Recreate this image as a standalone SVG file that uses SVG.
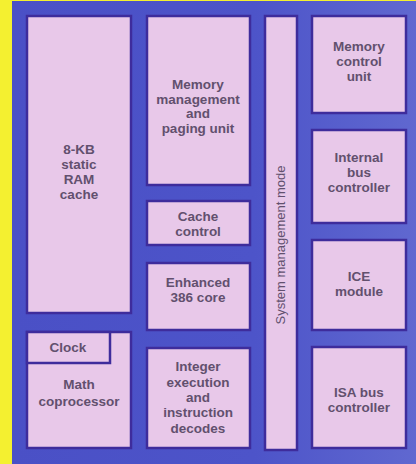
<svg xmlns="http://www.w3.org/2000/svg" width="416" height="464" viewBox="0 0 416 464">
<defs>
<linearGradient id="bg" x1="0" y1="0" x2="1" y2="0">
<stop offset="0" stop-color="#4a50c6"/><stop offset="0.6" stop-color="#4d54c9"/><stop offset="1" stop-color="#6068d0"/>
</linearGradient>
</defs>
<style>
.blk{fill:#e8c8e9;stroke:#3e2c9c;stroke-width:2.5}
.t{font-family:"Liberation Sans",Arial,sans-serif;font-size:13.5px;font-weight:bold;fill:#62506e;text-anchor:middle}
.tv{font-family:"Liberation Sans",Arial,sans-serif;font-size:13px;fill:#62506e;text-anchor:middle}
</style>
<rect x="0" y="0" width="416" height="464" fill="#f4f030"/>
<rect x="12" y="1" width="404" height="463" fill="url(#bg)"/>
<g id="ram-cache"><rect class="blk" x="27" y="16" width="104" height="297"/>
<text class="t" x="79" y="154">8-KB</text><text class="t" x="79" y="169">static</text><text class="t" x="79" y="184">RAM</text><text class="t" x="79" y="199">cache</text></g>
<g id="mmu"><rect class="blk" x="147" y="16" width="103" height="169"/>
<text class="t" x="198" y="89">Memory</text><text class="t" x="198" y="104">management</text><text class="t" x="198" y="118">and</text><text class="t" x="198" y="133">paging unit</text></g>
<g id="cache-control"><rect class="blk" x="147" y="201" width="103" height="44"/>
<text class="t" x="198" y="221">Cache</text><text class="t" x="198" y="236">control</text></g>
<g id="core"><rect class="blk" x="147" y="263" width="103" height="67"/>
<text class="t" x="198" y="287">Enhanced</text><text class="t" x="198" y="302">386 core</text></g>
<g id="integer"><rect class="blk" x="147" y="348" width="103" height="100"/>
<text class="t" x="198" y="371">Integer</text><text class="t" x="198" y="387">execution</text><text class="t" x="198" y="402">and</text><text class="t" x="198" y="417">instruction</text><text class="t" x="198" y="433">decodes</text></g>
<g id="smm"><rect class="blk" x="265" y="16" width="32" height="434"/>
<text class="tv" transform="translate(285,245) rotate(-90)">System management mode</text></g>
<g id="mcu"><rect class="blk" x="312" y="16" width="94" height="97"/>
<text class="t" x="359" y="51">Memory</text><text class="t" x="359" y="66">control</text><text class="t" x="359" y="81">unit</text></g>
<g id="ibc"><rect class="blk" x="312" y="130" width="94" height="93"/>
<text class="t" x="359" y="162">Internal</text><text class="t" x="359" y="177">bus</text><text class="t" x="359" y="192">controller</text></g>
<g id="ice"><rect class="blk" x="312" y="240" width="94" height="90"/>
<text class="t" x="359" y="281">ICE</text><text class="t" x="359" y="296">module</text></g>
<g id="isa"><rect class="blk" x="312" y="347" width="94" height="101"/>
<text class="t" x="359" y="397">ISA bus</text><text class="t" x="359" y="412">controller</text></g>
<g id="math"><rect class="blk" x="27" y="332" width="104" height="116"/>
<text class="t" x="79" y="389">Math</text><text class="t" x="79" y="406">coprocessor</text></g>
<g id="clock"><rect class="blk" x="27" y="332" width="83" height="31"/>
<text class="t" x="68" y="352">Clock</text></g>
<g id="connectors"></g>
</svg>
